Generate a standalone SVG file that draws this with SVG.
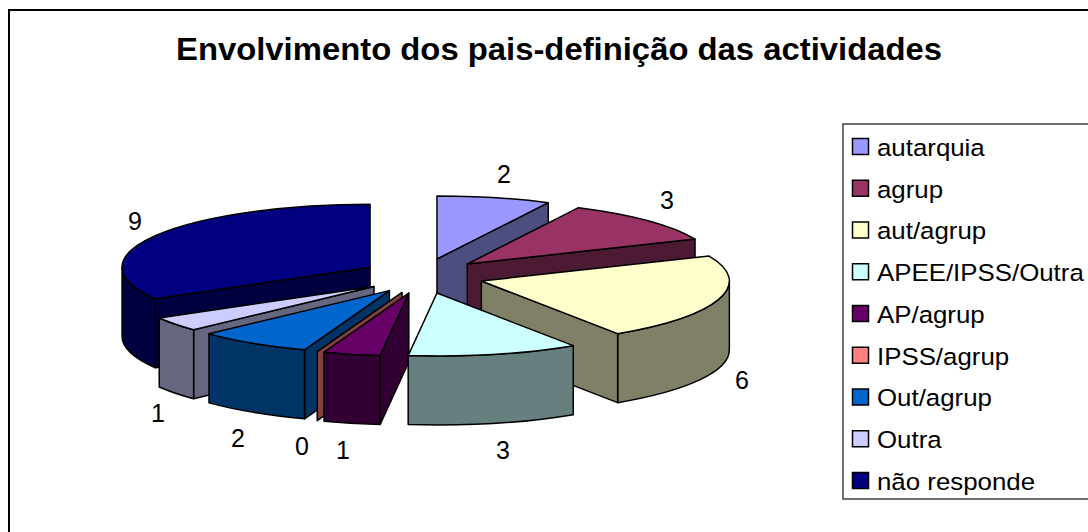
<svg xmlns="http://www.w3.org/2000/svg" width="1088" height="532" viewBox="0 0 1088 532">
<style>
.s{stroke:#000;stroke-width:1.5;stroke-linejoin:round}
.lbl{font-family:"Liberation Sans",Arial,sans-serif;font-size:25px;fill:#000;text-anchor:middle}
.leg{font-family:"Liberation Sans",Arial,sans-serif;font-size:23.5px;fill:#000}
.sw{stroke:#000;stroke-width:1.5}
</style>
<rect x="0" y="0" width="1088" height="532" fill="#fff"/>
<rect x="9" y="10" width="1100" height="540" fill="#fff" stroke="#000" stroke-width="2"/>
<text x="559" y="60" font-family="'Liberation Sans',Arial,sans-serif" font-size="31" font-weight="bold" text-anchor="middle" textLength="766" lengthAdjust="spacingAndGlyphs">Envolvimento dos pais-definição das actividades</text>

<g id="pie">
<g id="slice-autarquia">
<path class="s" fill="#4D4D80" d="M436.97,258.97 L548.27,202.67 L548.27,271.67 L436.97,327.97 Z"/>
<path class="s" fill="#9999FF" d="M436.97,258.97 L436.97,195.97 A248,63 0 0 1 548.27,202.67 Z"/>
</g>
<g id="slice-agrup">
<path class="s" fill="#4D1A33" d="M467.27,263.99 L695.03,239.04 L695.03,308.04 L467.27,332.99 Z"/>
<path class="s" fill="#993366" d="M467.27,263.99 L578.57,207.69 A248,63 0 0 1 695.03,239.04 Z"/>
</g>
<g id="slice-nao-responde">
<path class="s" fill="#000040" d="M370.07,267.25 L155.30,298.75 L155.30,367.75 L370.07,336.25 Z"/>
<path class="s" fill="#000040" d="M155.30,298.75 A248,63 0 0 1 122.07,267.25 L122.07,336.25 A248,63 0 0 0 155.30,367.75 Z"/>
<path class="s" fill="#000080" d="M370.07,267.25 L155.30,298.75 A248,63 0 0 1 370.07,204.25 Z"/>
</g>
<g id="slice-aut-agrup">
<path class="s" fill="#808066" d="M729.34,281.02 A248,63 0 0 1 617.62,333.66 L617.62,402.66 A248,63 0 0 0 729.34,350.02 Z"/>
<path class="s" fill="#808066" d="M481.34,281.02 L617.62,333.66 L617.62,402.66 L481.34,350.02 Z"/>
<path class="s" fill="#FFFFCC" d="M481.34,281.02 L709.10,256.07 A248,63 0 0 1 617.62,333.66 Z"/>
</g>
<g id="slice-outra">
<path class="s" fill="#666680" d="M374.01,286.46 L193.61,329.69 L193.61,398.69 L374.01,355.46 Z"/>
<path class="s" fill="#666680" d="M193.61,329.69 A248,63 0 0 1 159.24,317.96 L159.24,386.96 A248,63 0 0 0 193.61,398.69 Z"/>
<path class="s" fill="#CCCCFF" d="M374.01,286.46 L193.61,329.69 A248,63 0 0 1 159.24,317.96 Z"/>
</g>
<g id="slice-out-agrup">
<path class="s" fill="#003366" d="M389.38,290.62 L304.56,349.82 L304.56,418.82 L389.38,359.62 Z"/>
<path class="s" fill="#003366" d="M304.56,349.82 A248,63 0 0 1 208.98,333.85 L208.98,402.85 A248,63 0 0 0 304.56,418.82 Z"/>
<path class="s" fill="#0066CC" d="M389.38,290.62 L304.56,349.82 A248,63 0 0 1 208.98,333.85 Z"/>
</g>
<g id="slice-ipss-agrup">
<path class="s" fill="#804040" d="M402.04,292.44 L317.22,351.64 L317.22,420.64 L402.04,361.44 Z"/>
</g>
<g id="slice-ap-agrup">
<path class="s" fill="#330033" d="M408.83,293.03 L380.04,355.60 L380.04,424.60 L408.83,362.03 Z"/>
<path class="s" fill="#330033" d="M380.04,355.60 A248,63 0 0 1 324.01,352.23 L324.01,421.23 A248,63 0 0 0 380.04,424.60 Z"/>
<path class="s" fill="#660066" d="M408.83,293.03 L380.04,355.60 A248,63 0 0 1 324.01,352.23 Z"/>
</g>
<g id="slice-apee">
<path class="s" fill="#668080" d="M573.25,345.67 A248,63 0 0 1 408.18,355.60 L408.18,424.60 A248,63 0 0 0 573.25,414.67 Z"/>
<path class="s" fill="#CCFFFF" d="M436.97,293.03 L573.25,345.67 A248,63 0 0 1 408.18,355.60 Z"/>
</g>
</g>

<g id="labels">
<text class="lbl" x="504" y="183">2</text>
<text class="lbl" x="667" y="209">3</text>
<text class="lbl" x="742" y="389">6</text>
<text class="lbl" x="503" y="459">3</text>
<text class="lbl" x="343" y="459">1</text>
<text class="lbl" x="302" y="455">0</text>
<text class="lbl" x="238" y="447">2</text>
<text class="lbl" x="158" y="422">1</text>
<text class="lbl" x="135" y="230">9</text>
</g>

<g id="legend">
<rect x="843" y="124" width="260" height="375" fill="#fff" stroke="#404040" stroke-width="1.5"/>
<rect class="sw" x="852.5" y="138.5" width="16" height="16" fill="#9999FF"/>
<rect class="sw" x="852.5" y="180.25" width="16" height="16" fill="#993366"/>
<rect class="sw" x="852.5" y="222" width="16" height="16" fill="#FFFFCC"/>
<rect class="sw" x="852.5" y="263.75" width="16" height="16" fill="#CCFFFF"/>
<rect class="sw" x="852.5" y="305.5" width="16" height="16" fill="#660066"/>
<rect class="sw" x="852.5" y="347.25" width="16" height="16" fill="#FF8080"/>
<rect class="sw" x="852.5" y="389" width="16" height="16" fill="#0066CC"/>
<rect class="sw" x="852.5" y="430.75" width="16" height="16" fill="#CCCCFF"/>
<rect class="sw" x="852.5" y="472.5" width="16" height="16" fill="#000080"/>
<g transform="translate(877,0) scale(1.1,1)">
<text class="leg" x="0" y="156">autarquia</text>
<text class="leg" x="0" y="197.75">agrup</text>
<text class="leg" x="0" y="239.5">aut/agrup</text>
<text class="leg" x="0" y="281.25">APEE/IPSS/Outra</text>
<text class="leg" x="0" y="323">AP/agrup</text>
<text class="leg" x="0" y="364.75">IPSS/agrup</text>
<text class="leg" x="0" y="406.5">Out/agrup</text>
<text class="leg" x="0" y="448.25">Outra</text>
<text class="leg" x="0" y="490">não responde</text>
</g>
</g>
</svg>
